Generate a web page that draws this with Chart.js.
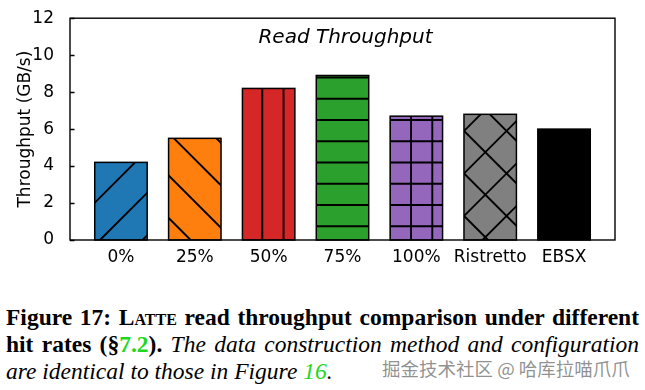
<!DOCTYPE html>
<html>
<head>
<meta charset="utf-8">
<script src="https://cdn.jsdelivr.net/npm/chart.js@4/dist/chart.umd.min.js"></script>
<style>
  html, body { margin: 0; padding: 0; background: #fff; }
  #wrap { position: relative; width: 645px; height: 390px; overflow: hidden; }
  #chartBox { position: absolute; left: 0; top: 0; width: 645px; height: 280px; }
  .cap { position: absolute; left: 6px; width: 633px; font-family: "Liberation Serif", "Times New Roman", serif; font-size: 23.5px; line-height: 27px; white-space: nowrap; color: #000; }
  .just { text-align: justify; text-align-last: justify; }
  .b { font-weight: bold; font-style: normal; }
  .i { font-style: italic; }
  .sc { font-variant: small-caps; }
  .g { color: #1ed81e; }
  #wm { position: absolute; left: 382px; top: 359px; line-height: 1; font-family: "Noto Sans CJK SC", sans-serif; font-size: 18.5px; color: rgba(125,125,125,0.85); white-space: nowrap; }
</style>
</head>
<body>
<div id="wrap">
  <div id="chartBox"><canvas id="chart" width="645" height="280"></canvas></div>
  <div class="cap just b" style="top:304px">Figure 17: L<span class="sc">atte</span> read throughput comparison under different</div>
  <div class="cap just i" style="top:331px"><span class="b">hit rates (§<span class="g">7.2</span>).</span> The data construction method and configuration</div>
  <div class="cap i" style="top:358px">are identical to those in Figure <span class="g">16</span>.</div>
  <div id="wm">掘金技术社区 @ 哈库拉喵爪爪</div>
</div>
<script>
// data
const categories = ["0%", "25%", "50%", "75%", "100%", "Ristretto", "EBSX"];
const throughput = [4.2, 5.5, 8.2, 8.9, 6.7, 6.8, 6.0];
const barColors = ["#1f77b4", "#ff7f0e", "#d62728", "#2ca02c", "#9467bd", "#808080", "#000000"];
const hatches = ["/", "\\", "|", "-", "+", "x", ""];
const yTicks = [0, 2, 4, 6, 8, 10, 12];

const FONT = "'DejaVu Sans', sans-serif";
const P = 21.25; // hatch spacing in px

function drawHatch(ctx, h, l, t, r, b) {
  ctx.beginPath();
  if (h.includes("/") || h.includes("x")) {
    const D = 2 * P;
    for (let c = Math.floor((l + t) / D) * D; c <= r + b + D; c += D) {
      ctx.moveTo(c - t, t); ctx.lineTo(c - b, b);
    }
  }
  if (h.includes("\\") || h.includes("x")) {
    const D = 2 * P, off = 35.6;
    for (let c = Math.floor((l - b - off) / D) * D + off; c <= r - t + D; c += D) {
      ctx.moveTo(c + t, t); ctx.lineTo(c + b, b);
    }
  }
  if (h.includes("|") || h.includes("+")) {
    for (let x = Math.floor((l - 7.3) / P) * P + 7.3; x <= r + P; x += P) {
      ctx.moveTo(x, t); ctx.lineTo(x, b);
    }
  }
  if (h.includes("-") || h.includes("+")) {
    for (let y = Math.floor((t - 13.8) / P) * P + 13.8; y <= b + P; y += P) {
      ctx.moveTo(l, y); ctx.lineTo(r, y);
    }
  }
  ctx.stroke();
}

const hatchPlugin = {
  id: "hatch",
  afterDatasetsDraw(chart) {
    const ctx = chart.ctx;
    const meta = chart.getDatasetMeta(0);
    meta.data.forEach((bar, i) => {
      const p = bar.getProps(["x", "y", "base", "width"], true);
      const l = p.x - p.width / 2, r = p.x + p.width / 2, t = p.y, b = p.base;
      ctx.save();
      ctx.beginPath();
      ctx.rect(l, t, r - l, b - t);
      ctx.clip();
      ctx.strokeStyle = "#000";
      ctx.lineWidth = 1.9;
      drawHatch(ctx, hatches[i], l, t, r, b);
      ctx.restore();
      ctx.save();
      ctx.strokeStyle = "#000";
      ctx.lineWidth = 1.5;
      ctx.strokeRect(l, t, r - l, b - t);
      ctx.restore();
    });
  },
  afterDraw(chart) {
    const ctx = chart.ctx;
    const a = chart.chartArea;
    const ys = chart.scales.y;
    ctx.save();
    ctx.strokeStyle = "#000";
    ctx.lineWidth = 1.4;
    ctx.strokeRect(a.left, a.top, a.right - a.left, a.bottom - a.top);
    ctx.beginPath();
    yTicks.forEach(v => {
      const py = Math.round(ys.getPixelForValue(v)) + 0.5;
      ctx.moveTo(a.left, py); ctx.lineTo(a.left + 4.5, py);
    });
    ctx.stroke();
    ctx.fillStyle = "#000";
    ctx.font = "italic 20px " + FONT;
    ctx.textAlign = "center";
    ctx.textBaseline = "alphabetic";
    ctx.fillText("Read Throughput", (a.left + a.right) / 2 + 3, a.top + 25);
    ctx.restore();
  }
};

new Chart(document.getElementById("chart"), {
  type: "bar",
  data: {
    datasets: [{
      data: categories.map((c, i) => ({ x: i, y: throughput[i] })),
      backgroundColor: barColors,
      borderWidth: 0,
      barPercentage: 0.71,
      categoryPercentage: 1.0
    }]
  },
  options: {
    responsive: false,
    animation: false,
    devicePixelRatio: 1,
    layout: { padding: { left: 0, right: 30, top: 17, bottom: 0 } },
    plugins: { legend: { display: false }, tooltip: { enabled: false } },
    scales: {
      x: {
        type: "linear",
        offset: false,
        min: -0.69,
        max: 6.69,
        grid: { display: false },
        border: { display: false },
        afterBuildTicks: (s) => { s.ticks = categories.map((c, i) => ({ value: i })); },
        afterFit: (s) => { s.height = 40; },
        ticks: {
          autoSkip: false,
          maxRotation: 0,
          padding: -1,
          color: "#000",
          font: { family: FONT, size: 17 },
          callback: (v) => categories[v]
        }
      },
      y: {
        min: 0,
        max: 12,
        grid: { display: false },
        border: { display: false },
        afterBuildTicks: (s) => { s.ticks = yTicks.map(v => ({ value: v })); },
        afterFit: (s) => { s.width = 70; },
        ticks: { padding: 8, color: "#000", font: { family: FONT, size: 17 } },
        title: {
          display: true,
          text: "Throughput (GB/s)",
          color: "#000",
          font: { family: FONT, size: 17 },
          padding: { top: 15, bottom: 0 }
        }
      }
    }
  },
  plugins: [hatchPlugin]
});
</script>
</body>
</html>
